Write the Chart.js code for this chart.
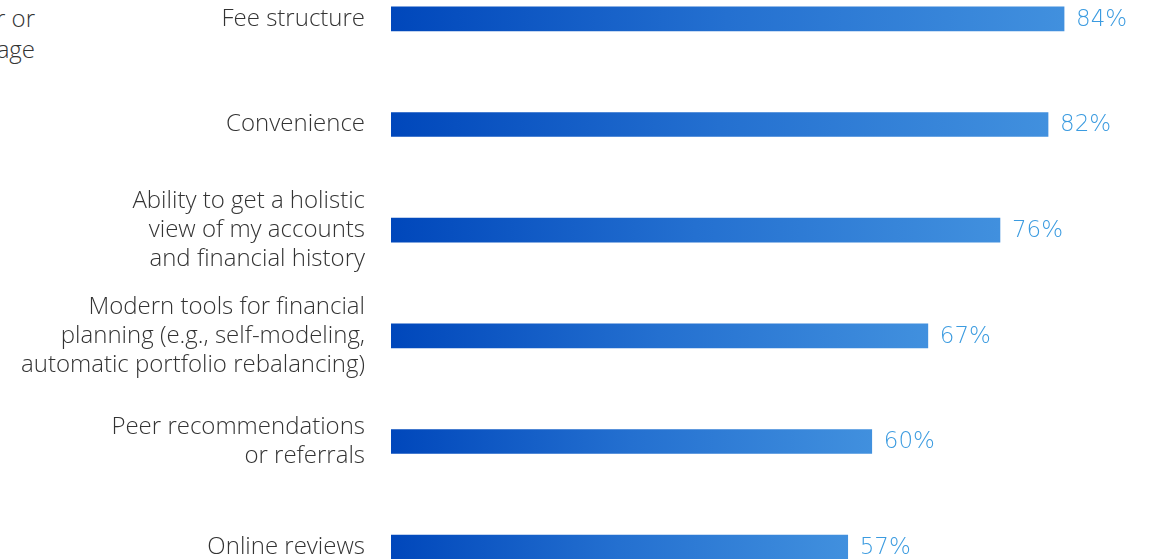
<!DOCTYPE html>
<html>
<head>
<meta charset="utf-8">
<script src="https://cdn.jsdelivr.net/npm/chart.js@4.4.0/dist/chart.umd.min.js"></script>
<style>
  html, body { margin: 0; padding: 0; width: 1149px; height: 559px; overflow: hidden; background: #fff; }
  #wrap { position: absolute; left: 0; top: -34px; width: 1149px; height: 634px; }
  #side { position: absolute; right: 1114px; top: 2px; white-space: nowrap; text-align: right;
          font-family: "Open Sans", sans-serif; font-weight: 300; font-size: 24px; line-height: 31px; color: #333; }
</style>
</head>
<body>
<div id="side">Important factors when choosing a financial advisor or<br>brokerage</div>
<div id="wrap"><canvas id="c"></canvas></div>
<script>
const categories = [
  "Fee structure",
  "Convenience",
  ["Ability to get a holistic", "view of my accounts", "and financial history"],
  ["Modern tools for financial", "planning (e.g., self-modeling,", "automatic portfolio rebalancing)"],
  ["Peer recommendations", "or referrals"],
  "Online reviews"
];
const values = [84, 82, 76, 67, 60, 57];
const valueLabels = ["84%", "82%", "76%", "67%", "60%", "57%"];

const FONT = '"Open Sans", sans-serif';
const NUM_FONT = '"DejaVu Sans", sans-serif';

function barGradient(ctx) {
  const chart = ctx.chart;
  const xs = chart.scales && chart.scales.x;
  if (!xs || ctx.dataIndex === undefined) return '#0047bb';
  const x0 = xs.getPixelForValue(0);
  const x1 = xs.getPixelForValue(values[ctx.dataIndex]);
  if (!isFinite(x0) || !isFinite(x1) || x1 <= x0) return '#0047bb';
  const g = chart.ctx.createLinearGradient(x0, 0, x1, 0);
  g.addColorStop(0, '#0047bb');
  g.addColorStop(0.5, '#2470d0');
  g.addColorStop(1, '#4190de');
  return g;
}

const labelPlugin = {
  id: 'valueLabels',
  afterDatasetsDraw(chart) {
    const meta = chart.getDatasetMeta(0);
    const c = chart.ctx;
    c.save();
    c.font = '200 23px ' + NUM_FONT;
    c.fillStyle = '#3b9be0';
    c.textAlign = 'left';
    c.textBaseline = 'middle';
    meta.data.forEach((bar, i) => {
      c.fillText(valueLabels[i], bar.x + 12, bar.y + 1);
    });
    c.restore();
  }
};

new Chart(document.getElementById('c'), {
  type: 'bar',
  data: {
    labels: categories,
    datasets: [{
      data: values,
      backgroundColor: barGradient,
      borderWidth: 0,
      barThickness: 24
    }]
  },
  options: {
    indexAxis: 'y',
    responsive: true,
    maintainAspectRatio: false,
    animation: false,
    layout: { padding: 0 },
    plugins: { legend: { display: false }, tooltip: { enabled: false } },
    scales: {
      x: {
        display: false,
        min: 0,
        max: 94.6,
        grid: { display: false }
      },
      y: {
        grid: { display: false, drawTicks: false },
        border: { display: false },
        afterFit(scale) {
          scale.width = 391;
          scale.paddingTop = 0;
          scale.paddingBottom = 0;
        },
        ticks: {
          padding: 26,
          color: '#333',
          font: { family: FONT, size: 24, weight: 300, lineHeight: '29px' }
        }
      }
    }
  },
  plugins: [labelPlugin]
});
</script>
</body>
</html>
